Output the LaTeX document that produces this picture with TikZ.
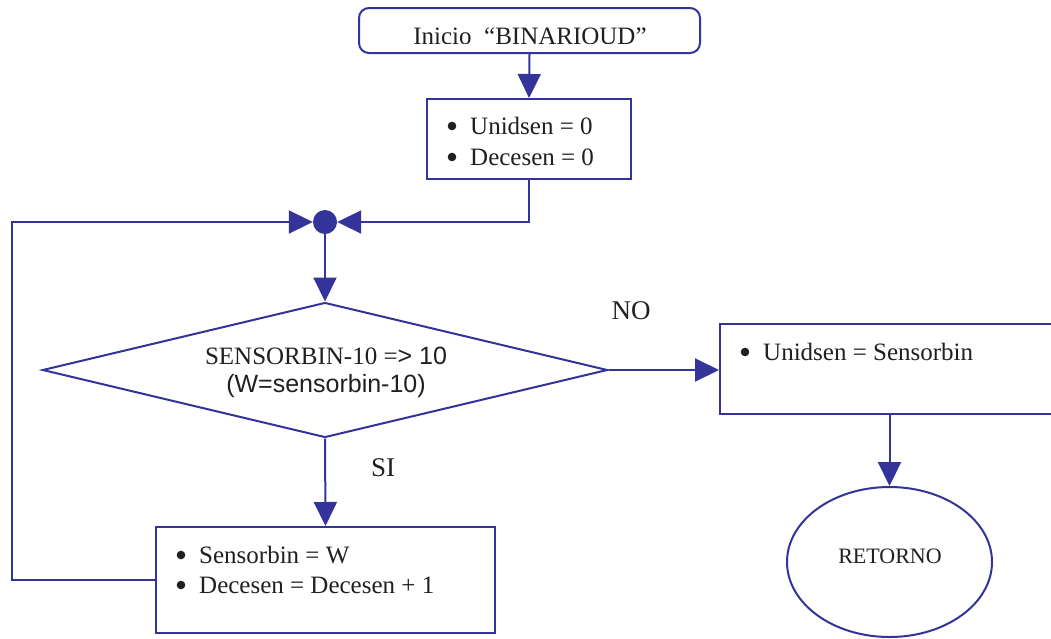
\documentclass[tikz,border=0pt]{standalone}
\usepackage{fontspec}
\setmainfont{Liberation Serif}
\newfontfamily\arialfont{Liberation Sans}
\usetikzlibrary{arrows.meta,shapes.geometric}
\definecolor{flowblue}{RGB}{51,51,153}
\definecolor{inktext}{RGB}{35,31,32}
\tikzset{
  flow/.style={draw=flowblue,line width=2pt,-{Triangle[length=24pt,width=23pt]}},
  stepbox/.style={draw=flowblue,line width=2pt,rectangle,inner sep=0pt,fill=white},
  txt/.style={inner sep=0pt,text=inktext,font=\fontsize{25}{28}\selectfont},
  bigtxt/.style={inner sep=0pt,text=inktext,font=\fontsize{27}{30}\selectfont},
}
% one bullet-list line: bullet dot, then the text at a fixed indent
\newcommand{\bulletitem}[3]{%
  \fill[inktext] (#1,#2-8) circle (4.3pt);
  \node[txt,anchor=base west] at (#1+18,#2) {#3};}
\begin{document}
\begin{tikzpicture}[x=1pt,y=-1pt]
\useasboundingbox[fill=white] (0,0) rectangle (1051,638);

% start terminal
\node[stepbox,rounded corners=10pt,minimum width=341pt,minimum height=45pt] (start) at (529.5,30.5) {};
\begin{scope}
  \clip (360,9) rectangle (699,43);
  \node[txt,anchor=base] (starttext) at (530,44.5) {Inicio\ \ “BINARIOUD”};
\end{scope}

% initialisation box
\node[stepbox,minimum width=204pt,minimum height=80pt] (b1) at (529,139) {};
\bulletitem{452}{134}{Unidsen = 0}
\bulletitem{452}{165}{Decesen = 0}

% junction point
\node[circle,fill=flowblue,inner sep=0pt,minimum size=24pt] (dot) at (325,222) {};

% decision
\node[diamond,draw=flowblue,line width=2pt,inner sep=0pt,minimum width=565pt,minimum height=135pt] (dec) at (325,370) {};
\node[txt,anchor=base] (dec1) at (326,364) {SENSORBIN-10 =\arialfont> 10};
\node[txt,anchor=base,font=\arialfont\fontsize{25}{28}\selectfont] (dec2) at (326,392) {(W=sensorbin-10)};

% loop body
\node[stepbox,minimum width=339pt,minimum height=106pt] (b3) at (325.5,580) {};
\bulletitem{181}{563}{Sensorbin = W}
\bulletitem{181}{593}{Decesen = Decesen + 1}

% exit assignment
\node[stepbox,minimum width=360pt,minimum height=90pt] (b2) at (900,369) {};
\bulletitem{745}{360}{Unidsen = Sensorbin}

% return terminal
\node[ellipse,draw=flowblue,line width=2pt,inner sep=0pt,minimum width=205pt,minimum height=150pt] (ret) at (889.5,562) {};
\node[txt,anchor=base,font=\fontsize{22}{25}\selectfont] (rettext) at (890,563) {RETORNO};

% branch labels
\node[bigtxt,anchor=base] (nolabel) at (631,319) {NO};
\node[bigtxt,anchor=base] (silabel) at (383,476) {SI};

% connectors
\coordinate (loopcorner) at (12,222);
\draw[flow] (start.south) -- (b1.north);
\draw[flow] (b1.south) |- (dot.east);
\draw[flow] (dot.south) -- (dec.north);
\draw[flow] (dec.south) -- (b3.north);
\draw[flow] (b3.west) -| (loopcorner) -- (dot.west);
\draw[flow] (dec.east) -- (dec.east -| b2.west);
\draw[flow] (ret.north |- b2.south) -- (ret.north);
\end{tikzpicture}
\end{document}
